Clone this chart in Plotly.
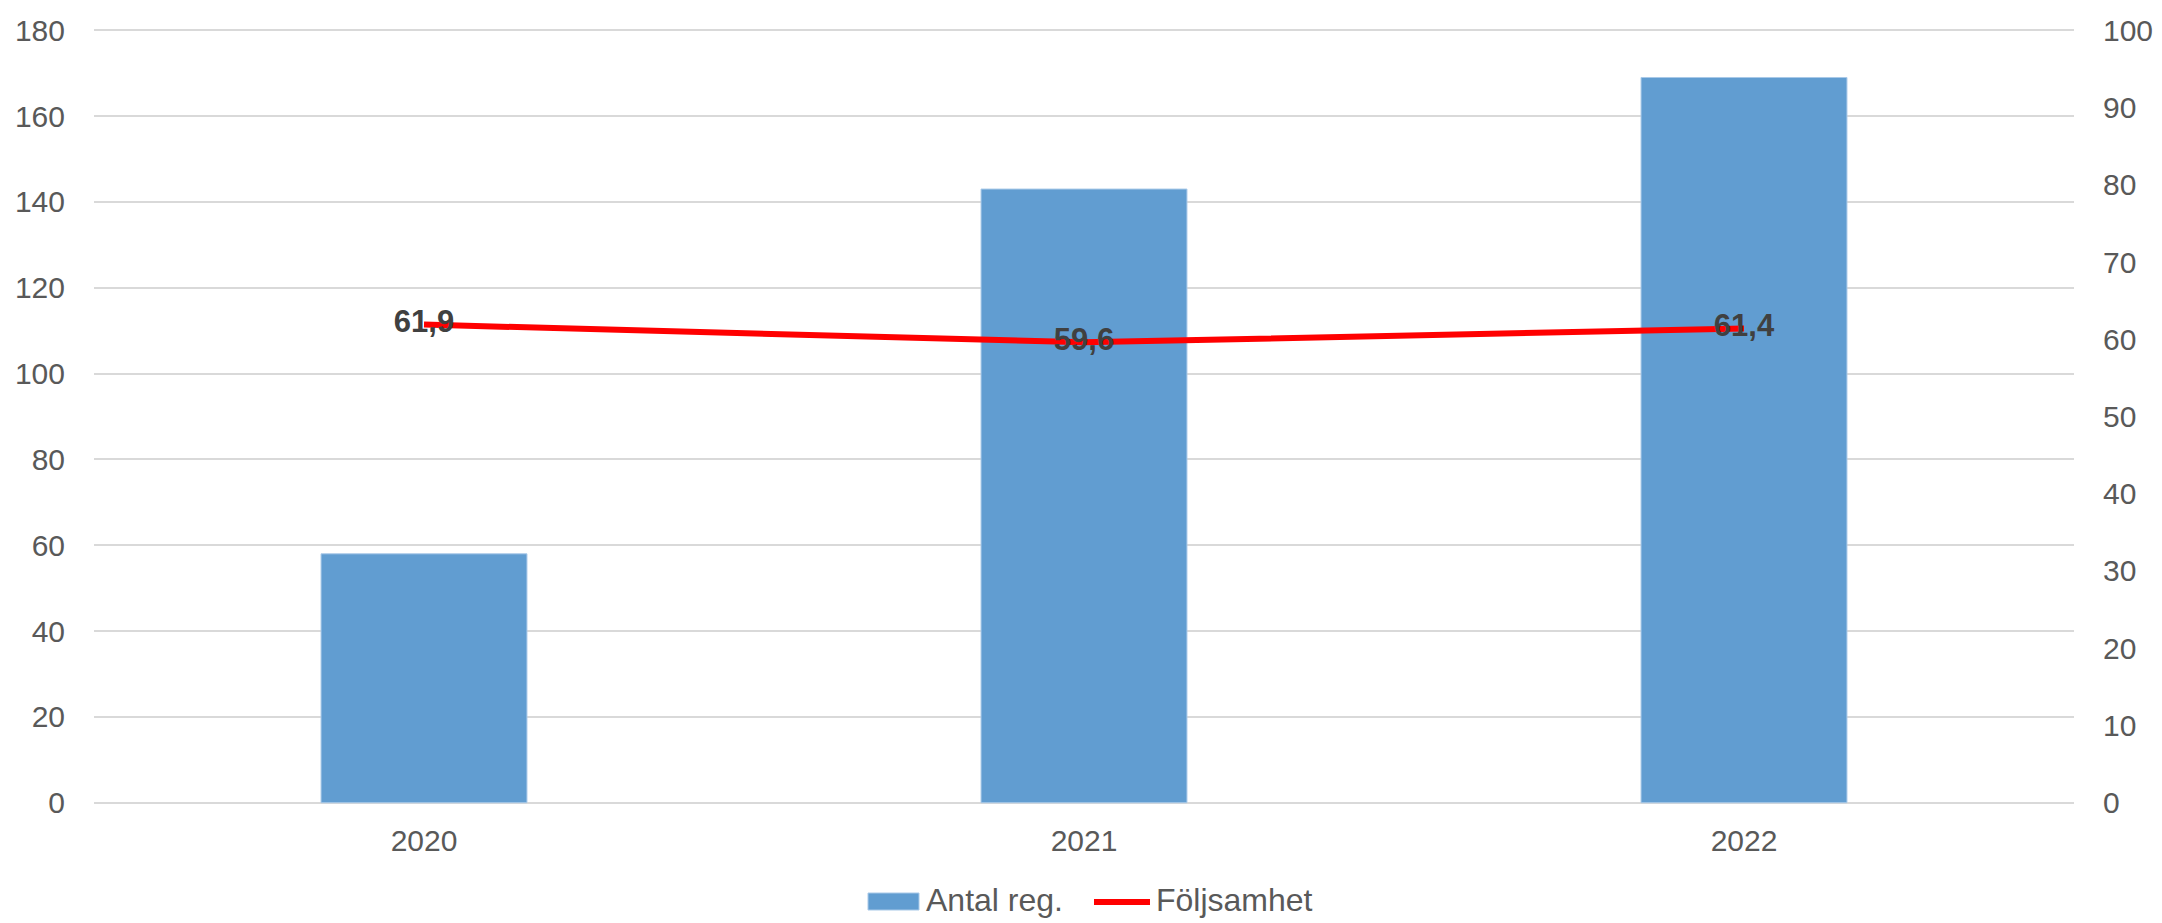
import plotly.graph_objects as go

years = ["2020", "2021", "2022"]
antal_reg = [58, 143, 169]
foljsamhet = [61.9, 59.6, 61.4]
foljsamhet_labels = ["61,9", "59,6", "61,4"]
left_ticks = [0, 20, 40, 60, 80, 100, 120, 140, 160, 180]
right_ticks = [0, 10, 20, 30, 40, 50, 60, 70, 80, 90, 100]
legend_names = ["Antal reg.", "Följsamhet"]

FONT = "Liberation Sans, Arial, Helvetica, sans-serif"
GREY = "#595959"
BLUE = "#619DD1"
RED = "#FF0000"

W, H = 2162, 923
ML, MR, MT, MB = 94, 88, 29, 119
PW, PH = W - ML - MR, H - MT - MB

def px(x):
    return (x - ML) / PW

def py(y):
    return (H - MB - y) / PH

pad = 0.3
fig = go.Figure()
fig.add_trace(go.Bar(
    x=years, y=antal_reg, name=legend_names[0],
    marker=dict(color=BLUE, line=dict(color="#A9C9E8", width=1)),
    yaxis="y", showlegend=False,
))
fig.add_trace(go.Scatter(
    x=years, y=foljsamhet, name=legend_names[1],
    mode="lines+text", text=foljsamhet_labels, textposition="middle center",
    textfont=dict(family=FONT, size=31, color="#404040", weight="bold"),
    line=dict(color=RED, width=6),
    yaxis="y2", showlegend=False,
))

# manual legend (wide symbols as in the reference)
shapes = [
    dict(type="rect", xref="paper", yref="paper",
         x0=px(868), x1=px(919), y0=py(893), y1=py(910),
         fillcolor=BLUE, line=dict(color="#A9C9E8", width=1)),
    dict(type="line", xref="paper", yref="paper",
         x0=px(1094), x1=px(1150), y0=py(902), y1=py(902),
         line=dict(color=RED, width=6)),
]
annotations = [
    dict(text=legend_names[0], xref="paper", yref="paper", x=px(924), y=py(900),
         xanchor="left", yanchor="middle", showarrow=False,
         font=dict(family=FONT, size=32, color=GREY)),
    dict(text=legend_names[1], xref="paper", yref="paper", x=px(1154), y=py(900),
         xanchor="left", yanchor="middle", showarrow=False,
         font=dict(family=FONT, size=32, color=GREY)),
]

fig.update_layout(
    width=W, height=H,
    margin=dict(l=ML, r=MR, t=MT, b=MB, autoexpand=False),
    paper_bgcolor="white", plot_bgcolor="white",
    bargap=0.688,
    font=dict(family=FONT, size=30, color=GREY),
    xaxis=dict(
        type="category", showgrid=False, showline=False, zeroline=False,
        ticks="", tickfont=dict(size=30, color=GREY), ticklabelstandoff=16,
    ),
    yaxis=dict(
        range=[-pad, 180 + pad], tickvals=left_ticks, showgrid=True,
        gridcolor="#D9D9D9", gridwidth=2, zeroline=False, showline=False,
        ticks="", tickfont=dict(size=30, color=GREY), ticklabelstandoff=28,
    ),
    yaxis2=dict(
        range=[-pad * 100 / 180, 100 + pad * 100 / 180], tickvals=right_ticks,
        overlaying="y", side="right",
        showgrid=False, zeroline=False, showline=False, ticks="",
        tickfont=dict(size=30, color=GREY), ticklabelstandoff=28,
    ),
    shapes=shapes,
    annotations=annotations,
    showlegend=False,
)

fig.write_html("out.html", config={"displayModeBar": False})
